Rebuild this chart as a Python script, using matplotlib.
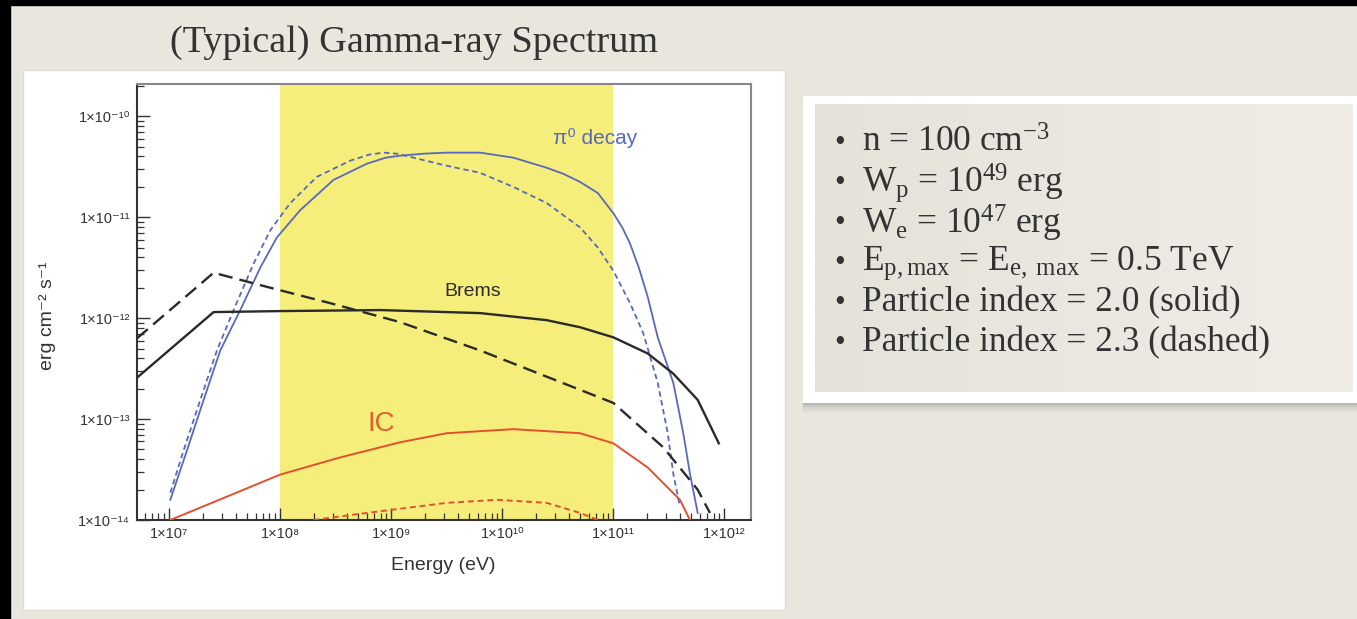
import numpy as np
import matplotlib
matplotlib.use("Agg")
import matplotlib.pyplot as plt
from matplotlib.patches import Rectangle
from matplotlib.colors import LinearSegmentedColormap
from matplotlib.ticker import LogLocator, FixedLocator, FuncFormatter, NullFormatter

plt.rcParams['mathtext.fontset'] = 'custom'
plt.rcParams['mathtext.rm'] = 'Liberation Serif'
plt.rcParams['mathtext.it'] = 'Liberation Serif:italic'
plt.rcParams['mathtext.bf'] = 'Liberation Serif:bold'

# ---------------- data: log10(E / eV), log10(flux / erg cm^-2 s^-1) ----------------
pi0_solid_logE = [7.01, 7.16, 7.31, 7.46, 7.64, 7.82, 7.97, 8.18, 8.48, 8.78, 8.95, 9.08, 9.30, 9.50,
                  9.80, 10.10, 10.40, 10.55, 10.70, 10.86, 11.00, 11.08, 11.15, 11.23, 11.31, 11.40,
                  11.54, 11.63, 11.69, 11.76]
pi0_solid_logF = [-13.80, -13.31, -12.81, -12.32, -11.92, -11.50, -11.20, -10.93, -10.63, -10.47, -10.41,
                  -10.39, -10.37, -10.36, -10.36, -10.41, -10.51, -10.57, -10.65, -10.76, -10.96, -11.10,
                  -11.26, -11.50, -11.79, -12.19, -12.64, -13.14, -13.54, -13.93]

pi0_dash_logE = [7.01, 7.13, 7.28, 7.43, 7.58, 7.76, 7.91, 8.09, 8.33, 8.63, 8.80, 8.93, 9.05, 9.20,
                 9.50, 9.80, 10.10, 10.40, 10.70, 10.86, 11.00, 11.15, 11.27, 11.40, 11.49, 11.54, 11.60]
pi0_dash_logF = [-13.73, -13.31, -12.81, -12.32, -11.92, -11.46, -11.13, -10.86, -10.60, -10.44, -10.38,
                 -10.36, -10.37, -10.41, -10.49, -10.56, -10.70, -10.86, -11.10, -11.30, -11.53, -11.85,
                 -12.15, -12.64, -13.14, -13.54, -13.87]

brems_solid_logE = [6.71, 7.40, 8.00, 8.90, 9.80, 10.40, 10.70, 11.00, 11.31, 11.54, 11.76, 11.95]
brems_solid_logF = [-12.59, -11.94, -11.93, -11.92, -11.95, -12.02, -12.09, -12.19, -12.35, -12.55,
                    -12.81, -13.24]

brems_dash_logE = [6.71, 7.40, 7.88, 8.48, 9.08, 9.80, 10.40, 11.00, 11.45, 11.76, 11.87]
brems_dash_logF = [-12.20, -11.55, -11.69, -11.86, -12.04, -12.32, -12.58, -12.84, -13.28, -13.70, -13.93]

ic_solid_logE = [7.01, 8.00, 8.54, 9.08, 9.50, 10.10, 10.70, 11.00, 11.31, 11.60, 11.69]
ic_solid_logF = [-14.00, -13.55, -13.38, -13.23, -13.14, -13.10, -13.14, -13.24, -13.48, -13.80, -14.00]

ic_dash_logE = [8.30, 8.78, 9.50, 9.95, 10.40, 10.70, 10.86]
ic_dash_logF = [-14.00, -13.93, -13.83, -13.80, -13.83, -13.93, -14.00]

band_E = [1e8, 1e11]
xlim_logE = (6.71, 12.24)
ylim_logF = (-14.0, -9.68)
x_decades = [7, 8, 9, 10, 11, 12]
y_decades = [-14, -13, -12, -11, -10]

bullets = [
    r"n = 100 cm$^{\mathrm{-3}}$",
    r"W$_{\mathrm{p}}$ = 10$^{\mathrm{49}}$ erg",
    r"W$_{\mathrm{e}}$ = 10$^{\mathrm{47}}$ erg",
    r"E$_{\mathrm{p,max}}$ = E$_{\mathrm{e,\ max}}$ = 0.5 TeV",
    "Particle index = 2.0 (solid)",
    "Particle index = 2.3 (dashed)",
]

# ---------------- figure ----------------
W, H = 1357, 619
fig = plt.figure(figsize=(W / 100, H / 100), dpi=100)
bg = fig.add_axes([0, 0, 1, 1])
bg.axis('off')

bg.add_patch(Rectangle((0, 0), W, H, color='#e8e6dd', zorder=0))
bg.add_patch(Rectangle((0, 0), W, 5, color='black', zorder=1))
bg.add_patch(Rectangle((0, 0), 10, H, color='black', zorder=1))
# plot panel
bg.add_patch(Rectangle((23, 70), 762, 540, facecolor='white', edgecolor='#dedcd3', lw=1, zorder=1))
# text box with shadow
for i, c in enumerate(['#b9b7b0', '#c9c7c0', '#d6d4cc', '#dfddd5']):
    bg.add_patch(Rectangle((803, 403 + i * 2), 554, 2, color=c, zorder=1))
bg.add_patch(Rectangle((803, 96), 554, 307, facecolor='white', edgecolor='none', zorder=2))
grad = np.linspace(0, 1, 256)[None, :]
cm = LinearSegmentedColormap.from_list('g', ['#e4e2d9', '#efede6'])
bg.imshow(grad, extent=(815, 1353, 392, 104), cmap=cm, aspect='auto', zorder=3)
bg.set_xlim(0, W)
bg.set_ylim(H, 0)

bg.text(414, 43, "(Typical) Gamma-ray Spectrum", fontsize=27.5, family='Liberation Serif',
        color='#333333', ha='center', va='center', zorder=5)

y0, dy = 143, 40
for i, t in enumerate(bullets):
    y = y0 + i * dy
    bg.text(840, y + 1, "\u2022", fontsize=22, family='Liberation Serif', color='#333333',
            ha='center', va='center', zorder=5)
    bg.text(862, y, t, fontsize=25.5, family='Liberation Serif', color='#333333',
            ha='left', va='center', zorder=5)

# ---------------- main axes ----------------
L, R, T, B = 137, 751, 84, 520
ax = fig.add_axes([L / W, 1 - B / H, (R - L) / W, (B - T) / H])
ax.set_facecolor('white')
ax.set_xscale('log')
ax.set_yscale('log')
ax.set_xlim(10 ** xlim_logE[0], 10 ** xlim_logE[1])
ax.set_ylim(10 ** ylim_logF[0], 10 ** ylim_logF[1])

ax.axvspan(band_E[0], band_E[1], color='#f6ee7a', lw=0, zorder=0)

blue = '#5869bd'
red = '#e4502e'
black = '#2a2a2a'

def P(le, lf):
    return 10 ** np.array(le), 10 ** np.array(lf)

ax.plot(*P(pi0_solid_logE, pi0_solid_logF), color=blue, lw=1.3, zorder=3)
ax.plot(*P(pi0_dash_logE, pi0_dash_logF), color=blue, lw=1.3, ls=(0, (3, 2)), zorder=3)
ax.plot(*P(brems_solid_logE, brems_solid_logF), color=black, lw=1.7, zorder=3)
ax.plot(*P(brems_dash_logE, brems_dash_logF), color=black, lw=1.7, ls=(0, (6, 3)), zorder=3)
ax.plot(*P(ic_solid_logE, ic_solid_logF), color=red, lw=1.4, zorder=3)
ax.plot(*P(ic_dash_logE, ic_dash_logF), color=red, lw=1.4, ls=(0, (3, 2)), zorder=3)

sans = ['Liberation Sans', 'DejaVu Sans']
ax.text(10 ** 10.84, 10 ** -10.22, "\u03c0\u2070 decay", fontsize=15, color=blue,
        family=sans, ha='center', va='center')
ax.text(10 ** 9.73, 10 ** -11.74, "Brems", fontsize=14, color=black,
        family=sans, ha='center', va='center')
ax.text(10 ** 8.91, 10 ** -13.05, "IC", fontsize=20, color='#e0602a',
        family=sans, ha='center', va='center')

sup = str.maketrans('-0123456789', '\u207b\u2070\u00b9\u00b2\u00b3\u2074\u2075\u2076\u2077\u2078\u2079')

def fmt(v, pos):
    e = int(round(np.log10(v)))
    return '1\u00d710' + str(e).translate(sup)

ax.xaxis.set_major_locator(FixedLocator([10.0 ** d for d in x_decades]))
ax.yaxis.set_major_locator(FixedLocator([10.0 ** d for d in y_decades]))
for axis in (ax.xaxis, ax.yaxis):
    axis.set_minor_locator(LogLocator(base=10, subs=np.arange(2, 10), numticks=20))
    axis.set_major_formatter(FuncFormatter(fmt))
    axis.set_minor_formatter(NullFormatter())

ax.tick_params(which='both', direction='in', top=False, right=False, colors='#333333',
               labelsize=10.5)
ax.tick_params(which='major', length=9, width=1.0, pad=5)
ax.tick_params(which='minor', length=5, width=0.9)
for lab in ax.get_xticklabels() + ax.get_yticklabels():
    lab.set_family(sans)

for s in ('left', 'bottom'):
    ax.spines[s].set_color('#333333')
    ax.spines[s].set_linewidth(1.5)
for s in ('top', 'right'):
    ax.spines[s].set_color('#888888')
    ax.spines[s].set_linewidth(1.5)

ax.set_xlabel("Energy (eV)", fontsize=14, family=sans, color='#333333')
ax.set_ylabel("erg cm\u207b\u00b2 s\u207b\u00b9", fontsize=14, family=sans, color='#333333')
ax.xaxis.set_label_coords((443 - L) / (R - L), -(557 - B) / (B - T))
ax.yaxis.set_label_coords((56 - L) / (R - L), (B - 316) / (B - T))

fig.savefig("out.png", dpi=100)
